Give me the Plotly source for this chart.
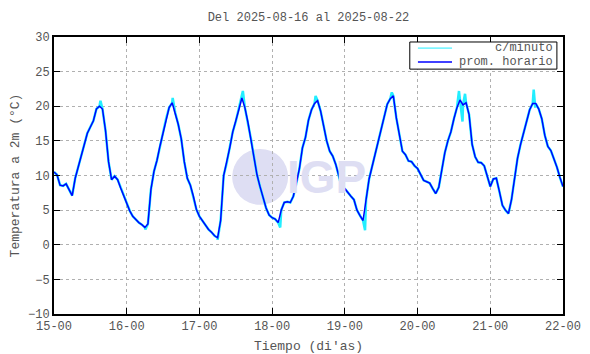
import plotly.graph_objects as go
import pandas as pd

# Hourly averages (prom. horario), one list per day (00h..23h)
day15 = [10.5, 10.1, 8.6, 8.5, 8.8, 8.0, 7.1, 9.6, 11.2, 12.8, 14.5, 16.1, 17.0, 17.9, 19.6, 20.0, 19.6, 16.5, 12.0, 9.4, 9.9, 9.4, 8.2, 7.1]
day16 = [6.0, 4.9, 4.1, 3.6, 3.2, 2.9, 2.5, 3.0, 8.0, 10.6, 12.2, 14.3, 16.3, 18.2, 19.8, 20.5, 19.1, 17.4, 15.3, 12.0, 9.6, 8.6, 7.0, 5.1]
day17 = [4.1, 3.4, 2.8, 2.2, 1.8, 1.3, 1.0, 3.5, 10.0, 11.8, 14.0, 16.3, 17.8, 19.5, 21.2, 19.8, 17.7, 15.3, 12.7, 10.1, 8.4, 6.7, 5.3, 4.3]
day18 = [3.9, 3.7, 3.2, 5.0, 6.1, 6.2, 6.1, 7.0, 8.9, 11.0, 14.0, 15.5, 18.0, 19.5, 20.4, 20.8, 19.3, 17.2, 15.0, 13.5, 12.8, 11.6, 9.8, 8.3]
day19 = [8.1, 7.5, 7.0, 6.5, 5.0, 4.2, 3.5, 6.5, 9.5, 11.3, 13.1, 15.0, 17.0, 18.8, 20.3, 21.1, 21.5, 18.3, 15.9, 13.5, 13.0, 12.1, 12.0, 11.4]
day20 = [11.0, 10.2, 9.3, 9.1, 8.9, 8.1, 7.4, 8.3, 10.8, 13.3, 15.0, 16.3, 18.2, 19.8, 20.9, 20.2, 20.5, 18.8, 14.5, 12.7, 11.9, 11.85, 11.4, 9.8]
day21 = [8.4, 9.5, 9.6, 7.7, 5.7, 5.0, 4.5, 6.5, 9.5, 12.5, 14.5, 16.2, 18.0, 19.5, 20.4, 20.4, 19.6, 18.2, 15.8, 14.2, 13.6, 12.5, 11.2, 9.7]
last_value = [8.4]  # 22-00

# Per-minute readings (c/minuto) that stand out from the hourly line
spike_times = ["2025-08-15 15:20", "2025-08-16 06:10", "2025-08-16 15:10", "2025-08-17 06:00",
               "2025-08-17 14:20", "2025-08-18 02:40", "2025-08-18 14:20", "2025-08-19 06:40",
               "2025-08-19 15:30", "2025-08-20 13:40", "2025-08-20 14:50", "2025-08-20 15:40",
               "2025-08-21 14:20", "2025-08-21 14:50"]
spike_values = [20.8, 2.2, 21.2, 0.7, 22.2, 2.5, 21.5, 2.1, 22.0, 22.2, 17.8, 21.8, 22.4, 19.8]

y_ticks = [-10, -5, 0, 5, 10, 15, 20, 25, 30]
title_text = "Del 2025-08-16 al 2025-08-22"
y_title = "Temperatura a 2m (°C)"
x_title = "Tiempo (di'as)"
legend_names = ["c/minuto", "prom. horario"]
CYAN = "#22eeff"
BLUE = "#0000ff"

hourly = day15 + day16 + day17 + day18 + day19 + day20 + day21 + last_value
hourly_times = pd.date_range("2025-08-15 00:00", periods=len(hourly), freq="h")

hs = pd.Series(hourly, index=hourly_times)
sp = pd.Series(spike_values, index=pd.to_datetime(spike_times))
minute = pd.concat([hs, sp]).sort_index()

FONT = "Liberation Mono"
TXT = "#555"
W, H = 582, 346  # page body adds an 8 px margin

fig = go.Figure()
fig.add_trace(go.Scatter(x=minute.index, y=minute.values, mode="lines",
                         name=legend_names[0], line=dict(color=CYAN, width=2.5)))
fig.add_trace(go.Scatter(x=hs.index, y=hs.values, mode="lines",
                         name=legend_names[1], line=dict(color=BLUE, width=1.5)))

# IGP watermark
fig.add_shape(type="circle", xref="paper", yref="paper", x0=0.35, x1=0.46, y0=0.394, y1=0.596,
              fillcolor="#dedef3", line=dict(width=0), layer="below")
fig.add_annotation(text="<b>IGP</b>", xref="paper", yref="paper", x=0.535, y=0.495,
                   showarrow=False, font=dict(family="Liberation Sans", size=46, color="#dedef3"))

# Legend box drawn in paper coordinates
fig.add_shape(type="rect", xref="paper", yref="paper", x0=0.699, x1=0.988, y0=0.884, y1=0.982,
              fillcolor="white", line=dict(color="black", width=1), layer="above")
for i, (nm, col) in enumerate(zip(legend_names, [CYAN, BLUE])):
    yy = 0.960 - i * 0.050
    fig.add_shape(type="line", xref="paper", yref="paper", x0=0.715, x1=0.782, y0=yy, y1=yy,
                  line=dict(color=col, width=1.5 if i else 1), layer="above")
    fig.add_annotation(text=nm, xref="paper", yref="paper", x=0.985, y=yy, xanchor="right",
                       yanchor="middle", showarrow=False,
                       font=dict(family=FONT, size=12, color=TXT))

fig.update_layout(
    width=W, height=H,
    margin=dict(l=46, r=27, t=29, b=40, autoexpand=False),
    paper_bgcolor="white", plot_bgcolor="white",
    title=dict(text=title_text, x=0.5, xref="paper", y=1 - 9 / H, yref="container",
               xanchor="center", yanchor="middle", font=dict(family=FONT, size=12, color=TXT)),
    font=dict(family=FONT, size=12, color=TXT),
    showlegend=False,
)
fig.update_xaxes(range=["2025-08-15 00:00", "2025-08-22 00:00"], dtick=86400000,
                 tick0="2025-08-15", tickformat="%d-%H", showgrid=True, gridcolor="#b0b0b0",
                 griddash="dot", gridwidth=1, showline=True, linecolor="black", linewidth=2,
                 mirror="allticks", ticks="inside", ticklen=6, tickcolor="black", automargin=False,
                 title=dict(text=x_title, font=dict(family=FONT, size=13, color=TXT), standoff=10),
                 zeroline=False)
fig.update_yaxes(range=[-10, 30], tickvals=y_ticks, showgrid=True, gridcolor="#b0b0b0",
                 griddash="dot", gridwidth=1, showline=True, linecolor="black", linewidth=2,
                 mirror="allticks", ticks="inside", ticklen=6, tickcolor="black", automargin=False,
                 title=dict(text=y_title, font=dict(family=FONT, size=13, color=TXT), standoff=8),
                 zeroline=False)

fig.write_html("out.html")
